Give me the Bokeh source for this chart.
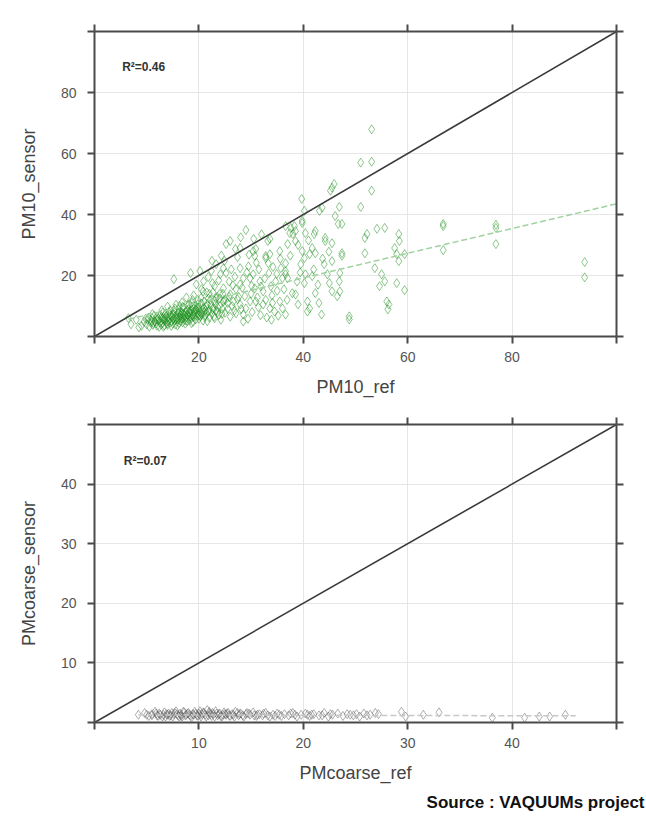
from bokeh.plotting import figure
from bokeh.models import Range1d, LinearAxis, FixedTicker, Label, Title, ColumnDataSource
from bokeh.layouts import column
from bokeh.embed import file_html
from bokeh.resources import INLINE

# ---------------- data ----------------
pm10_ref = [
    6.5, 7.0, 8.0, 8.5, 9.0, 9.5, 10.0, 10.2, 10.5, 10.8,
    11.0, 11.2, 11.5, 11.8, 12.0, 12.0, 12.3, 12.5, 12.6, 12.8,
    13.0, 13.0, 13.2, 13.4, 13.5, 13.6, 13.8, 14.0, 14.0, 14.2,
    14.3, 14.5, 14.6, 14.8, 15.0, 15.0, 15.2, 15.3, 15.4, 15.5,
    15.6, 15.8, 16.0, 16.0, 16.1, 16.2, 16.3, 16.5, 16.5, 16.6,
    16.8, 16.9, 17.0, 17.0, 17.2, 17.3, 17.4, 17.5, 17.6, 17.8,
    17.8, 18.0, 18.0, 18.1, 18.2, 18.3, 18.5, 18.5, 18.6, 18.8,
    18.9, 19.0, 19.0, 19.2, 19.3, 19.4, 19.5, 19.6, 19.8, 19.8,
    20.0, 20.0, 20.2, 20.3, 20.5, 20.5, 20.7, 20.8, 21.0, 21.0,
    21.2, 21.4, 21.5, 21.8, 22.0, 22.0, 22.3, 22.5, 22.8, 23.0,
    23.0, 23.3, 23.5, 23.8, 24.0, 24.2, 24.5, 24.8, 25.0, 13.5,
    14.4, 15.7, 16.4, 17.1, 17.7, 18.4, 19.1, 19.9, 20.6, 12.2,
    11.6, 14.9, 16.7, 18.7, 21.3, 15.1, 17.9, 19.7, 13.9,
    # dense cluster, second pass
    10.3, 10.9, 11.3, 11.9, 12.4, 12.7, 13.1, 13.3, 13.7, 14.1,
    14.5, 14.7, 15.1, 15.4, 15.9, 16.2, 16.6, 16.9, 17.2, 17.5,
    17.9, 18.1, 18.4, 18.8, 19.1, 19.4, 19.8, 20.1, 20.4, 20.9,
    21.1, 21.6, 21.9, 22.2, 22.6, 22.9, 23.2, 23.6, 23.9, 24.4,
    11.4, 12.9, 14.0, 15.6, 16.8, 17.6, 19.0, 13.2, 15.9, 18.6,
    21.6, 22.7, 24.6, 20.8, 25.5, 26.0, 25.8, 9.8, 11.1, 16.3,
    # middle
    23.3, 24.7, 24.1, 25.2, 18.4, 19.5, 20.9, 20.5, 15.2, 27.9,
    28.5, 27.9, 27.1, 29.8, 31.7, 30.7, 32.3, 33.8, 34.7, 24.7,
    26.0, 23.3, 24.7, 26.6, 27.9, 29.0, 27.1, 28.5, 29.8, 30.9,
    32.3, 33.6, 34.5, 35.5, 36.0, 36.6, 28.5, 29.0, 26.0, 25.2,
    27.0, 27.9, 30.4, 30.7, 30.9, 33.2, 33.6, 32.8, 35.5, 36.6,
    35.7, 36.6, 37.0, 22.0, 23.0, 25.8, 26.5, 28.8, 30.0, 31.2,
    32.8, 34.0, 35.0, 25.5, 26.8, 30.2, 31.8, 33.0, 22.6, 21.5,
    29.5, 31.5, 33.4, 34.2, 30.1, 27.4, 24.3, 22.5, 20.2, 21.8,
    32.0, 30.5, 28.0, 33.6, 32.8,
    22.4, 23.8, 24.9, 26.2, 26.9, 27.6, 28.3, 29.2, 29.6, 30.4,
    31.0, 31.9, 32.6, 33.3, 34.1, 34.9, 35.6, 36.3, 36.9, 37.5,
    28.1, 29.4, 31.4, 33.9, 35.2, 24.0, 25.1, 26.4, 27.4, 23.6,
    38.8, 39.4, 39.0, 42.8, 43.7, 42.0, 44.9, 41.0, 39.0, 43.0,
    # right
    39.7, 43.6, 46.9, 46.1, 47.4, 45.9, 45.5, 45.2, 45.5, 44.0,
    47.4, 47.4, 45.5, 44.2, 41.7, 42.3, 41.2, 39.8, 40.2, 39.5,
    38.5, 37.0, 38.0, 37.6, 38.5, 36.6, 36.0, 40.4, 41.7, 40.2,
    38.5, 37.9, 40.8, 41.2, 40.8, 42.3, 44.6, 45.0, 45.5, 43.5,
    47.0, 46.9, 47.0, 46.5, 48.8, 48.8, 43.1, 42.3, 44.2, 40.4,
    38.3, 39.8, 37.4, 40.2, 39.8, 36.6, 42.1, 46.7, 51.0, 51.8,
    52.2, 51.8, 53.7, 54.1, 55.6, 58.3, 58.4, 57.5, 57.9, 58.3,
    59.4, 55.0, 55.6, 54.6, 56.0, 56.4, 56.2, 57.9, 59.4, 66.8,
    66.8, 66.8, 76.9, 76.9, 76.9, 93.9, 93.9, 53.1, 51.0, 53.1,
    53.1,
]
pm10_sensor = [
    6.0, 4.0, 5.5, 3.0, 3.5, 4.8, 4.0, 5.5, 3.2, 4.5,
    6.0, 3.8, 5.0, 4.2, 6.5, 3.5, 5.2, 4.6, 7.0, 3.9,
    5.8, 4.4, 6.4, 3.6, 5.1, 7.5, 4.8, 6.2, 3.8, 5.5,
    8.0, 4.5, 6.8, 5.0, 7.2, 4.2, 6.0, 8.5, 5.3, 3.9,
    6.6, 4.9, 7.8, 5.6, 9.0, 4.4, 6.3, 7.0, 5.1, 8.3,
    6.0, 4.6, 7.4, 9.5, 5.5, 6.8, 4.2, 8.0, 6.2, 7.2,
    5.0, 9.0, 6.5, 10.5, 7.7, 5.4, 8.4, 6.0, 11.0, 7.0,
    4.8, 9.2, 6.4, 7.9, 10.0, 5.6, 8.6, 6.8, 12.0, 7.5,
    9.6, 5.8, 8.1, 6.6, 10.8, 7.2, 9.0, 5.2, 8.0, 11.5,
    6.8, 9.8, 7.6, 12.5, 8.8, 6.2, 10.2, 7.4, 9.3, 11.8,
    6.0, 8.4, 13.0, 7.0, 10.0, 5.5, 9.0, 12.0, 7.8, 5.9,
    7.1, 5.7, 6.9, 6.1, 8.7, 7.3, 8.3, 6.9, 7.9, 5.9,
    4.9, 6.4, 7.6, 9.8, 8.6, 5.6, 6.9, 9.4, 4.2,
    # dense cluster, second pass
    6.2, 5.1, 4.4, 5.6, 3.2, 6.0, 7.8, 5.4, 6.6, 5.0,
    8.6, 3.5, 7.6, 9.2, 6.2, 8.0, 5.8, 9.8, 7.1, 5.2,
    10.2, 8.1, 6.6, 12.0, 7.2, 9.0, 10.6, 7.0, 12.6, 9.4,
    6.4, 10.6, 8.2, 12.0, 9.0, 6.6, 10.6, 8.0, 12.4, 7.4,
    6.8, 8.6, 9.8, 10.4, 11.2, 12.8, 13.5, 3.2, 3.6, 4.4,
    5.0, 14.5, 14.0, 14.8, 11.0, 6.5, 13.0, 5.8, 7.4, 10.0,
    # middle
    23.7, 22.4, 20.4, 20.8, 20.8, 17.1, 18.1, 15.5, 18.8, 22.4,
    19.1, 17.1, 15.5, 19.1, 18.1, 15.8, 14.8, 16.5, 18.1, 15.8,
    13.8, 12.5, 11.5, 11.5, 10.5, 9.2, 7.6, 7.2, 11.5, 11.5,
    10.5, 9.2, 8.2, 11.5, 9.2, 7.2, 4.9, 34.9, 31.3, 30.3,
    28.7, 29.0, 28.0, 26.4, 28.7, 31.3, 27.0, 25.7, 28.0, 24.0,
    22.4, 21.4, 19.1, 14.0, 16.5, 18.0, 16.8, 13.2, 14.0, 12.8,
    12.0, 13.5, 15.0, 9.0, 8.5, 8.0, 7.0, 6.2, 17.5, 14.5,
    23.0, 22.0, 20.8, 22.8, 16.6, 26.0, 26.5, 24.8, 21.5, 19.5,
    33.5, 32.0, 32.5, 32.0, 26.4,
    21.5, 18.4, 24.8, 22.0, 19.6, 13.0, 16.0, 21.0, 26.8, 20.4,
    24.2, 16.4, 19.0, 24.0, 11.0, 20.5, 25.5, 15.5, 12.0, 26.5,
    9.0, 5.8, 9.6, 5.5, 6.8, 14.0, 12.0, 10.0, 12.2, 9.6,
    18.0, 21.0, 10.5, 17.0, 25.5, 22.0, 27.8, 31.5, 30.0, 11.0,
    # right
    45.1, 42.2, 42.5, 39.5, 36.9, 50.0, 48.8, 47.8, 24.7, 23.7,
    27.3, 26.5, 30.6, 31.3, 29.0, 27.3, 27.0, 28.0, 25.7, 23.7,
    31.3, 30.3, 33.6, 35.6, 34.6, 20.4, 19.1, 20.4, 19.8, 17.5,
    13.8, 14.2, 11.5, 9.2, 8.2, 14.2, 20.4, 17.5, 14.8, 7.2,
    20.8, 18.1, 14.8, 13.2, 6.6, 5.6, 41.2, 34.6, 32.3, 33.9,
    36.2, 37.2, 33.9, 41.2, 37.9, 36.2, 33.6, 36.9, 42.5, 32.3,
    33.6, 27.3, 22.4, 35.3, 35.6, 33.6, 31.3, 29.0, 27.0, 24.7,
    27.0, 20.4, 18.1, 16.5, 11.5, 10.5, 8.9, 17.5, 15.2, 36.9,
    36.2, 28.3, 36.6, 35.6, 30.3, 24.4, 19.4, 67.9, 57.0, 57.3,
    47.8,
]
pm10_fit = {"intercept": 3.0, "slope": 0.405}
pm10_r2 = "R\u00b2=0.46"

coarse_ref = [
    4.2, 4.8, 5.2, 5.5, 5.8, 6.0, 6.2, 6.5, 6.7, 7.0,
    7.2, 7.4, 7.6, 7.8, 8.0, 8.2, 8.4, 8.6, 8.8, 9.0,
    9.2, 9.4, 9.6, 9.8, 10.0, 10.2, 10.4, 10.6, 10.8, 11.0,
    11.2, 11.4, 11.6, 11.8, 12.0, 12.2, 12.4, 12.6, 12.8, 13.0,
    13.2, 13.5, 13.8, 14.0, 14.3, 14.6, 14.9, 15.2, 15.5, 15.8,
    16.1, 16.4, 16.8, 17.1, 17.5, 17.9, 18.2, 18.6, 19.0, 19.4,
    19.8, 20.2, 20.6, 21.0, 21.5, 22.0, 22.4, 22.8, 23.3, 23.8,
    24.2, 24.8, 25.4, 25.8, 26.4, 26.9, 29.4, 29.8, 31.5, 33.0,
    38.1, 41.2, 42.6, 43.6, 45.1, 5.5, 6.3, 7.1, 7.9, 8.7,
    9.5, 10.3, 10.9, 11.7, 12.5, 6.8, 8.1, 9.3, 10.7, 11.5,
    12.9, 13.7, 14.5, 15.3, 16.2, 17.3, 18.8, 20.4, 21.8,
    5.0, 5.9, 6.6, 7.3, 7.7, 8.3, 8.9, 9.1, 9.7, 10.1,
    10.5, 11.1, 11.3, 11.9, 12.3, 12.7, 13.3, 13.9, 14.2, 14.8,
    15.6, 16.6, 17.7, 19.2, 20.8, 22.6, 24.5, 25.1, 26.1, 27.2,
    6.1, 7.5, 9.9, 12.1, 13.4, 8.5, 10.1, 11.0, 6.9, 8.3,
]
coarse_sensor = [
    1.3, 1.6, 1.1, 1.4, 1.8, 1.2, 1.5, 1.0, 1.7, 1.3,
    1.1, 1.6, 1.4, 1.9, 1.2, 1.5, 1.0, 1.7, 1.3, 1.6,
    1.1, 1.4, 1.8, 1.2, 1.5, 1.0, 1.7, 1.3, 2.1, 1.6,
    1.1, 1.4, 1.9, 1.2, 1.5, 1.0, 1.7, 1.3, 1.6, 1.1,
    1.4, 1.8, 1.2, 1.5, 1.0, 1.6, 1.3, 1.7, 1.1, 1.4,
    1.2, 1.6, 1.0, 1.3, 1.5, 1.1, 1.4, 1.2, 1.6, 1.0,
    1.3, 1.5, 1.1, 1.4, 1.2, 1.6, 1.0, 1.3, 1.5, 1.1,
    1.4, 1.2, 1.0, 1.5, 1.3, 1.6, 1.8, 1.0, 1.3, 1.7,
    0.8, 0.8, 1.0, 1.0, 1.3, 1.2, 1.3, 1.5, 1.4, 1.2,
    1.3, 1.4, 1.2, 1.5, 1.4, 1.0, 1.0, 0.9, 1.0, 1.0,
    1.2, 1.6, 1.4, 1.2, 1.5, 1.1, 1.5, 1.3, 1.2,
    1.3, 1.5, 1.3, 1.2, 1.6, 1.3, 1.5, 1.3, 1.5, 1.3,
    1.6, 1.4, 1.6, 1.4, 1.3, 1.5, 1.3, 1.4, 1.2, 1.5,
    1.3, 1.2, 1.3, 1.3, 1.3, 1.4, 1.3, 1.4, 1.2, 1.4,
    1.1, 1.0, 1.1, 1.1, 1.0, 1.8, 1.9, 1.8, 1.4, 1.1,
]
coarse_fit = {"intercept": 1.3, "slope": -0.004}
coarse_r2 = "R\u00b2=0.07"

pm10_limits = [0, 100]
pm10_ticks = [0, 20, 40, 60, 80, 100]
pm10_labelled = [20, 40, 60, 80]
coarse_limits = [0, 50]
coarse_ticks = [0, 10, 20, 30, 40, 50]
coarse_labelled = [10, 20, 30, 40]

source_text = "Source : VAQUUMs project"

FONT = "Liberation Sans"
AXIS_COL = "#4a4a4a"


def style_axis(ax, ticks, labelled, show_labels=True, vertical=False):
    ax.ticker = FixedTicker(ticks=ticks)
    ax.axis_line_color = AXIS_COL
    ax.axis_line_width = 2
    ax.major_tick_line_color = AXIS_COL
    ax.major_tick_line_width = 2
    ax.major_tick_out = 7
    ax.major_tick_in = 0
    ax.minor_tick_line_color = None
    ax.major_label_text_font = FONT
    ax.major_label_text_color = "#555555"
    if show_labels:
        ax.major_label_text_font_size = "14px"
        ax.major_label_standoff = 11 if vertical else 8
        ax.major_label_overrides = {t: ("" if t not in labelled else str(t)) for t in ticks}
    else:
        ax.major_label_text_font_size = "0px"
        ax.major_label_standoff = 0
        ax.major_label_overrides = {t: "" for t in ticks}
    ax.axis_label_text_font = FONT
    ax.axis_label_text_font_style = "normal"
    ax.axis_label_text_font_size = "18px"
    ax.axis_label_text_color = "#444444"
    ax.axis_label_standoff = 19 if vertical else 12


def panel(xs, ys, fit, r2, limits, ticks, labelled, xlabel, ylabel, colour, fit_colour,
          height, borders, r2_pos):
    p = figure(width=646, height=height,
               x_range=Range1d(limits[0], limits[1]), y_range=Range1d(limits[0], limits[1]),
               output_backend="svg", toolbar_location=None,
               min_border_left=borders[0], min_border_right=borders[1],
               min_border_top=borders[2], min_border_bottom=borders[3])
    p.outline_line_color = None
    p.background_fill_color = "white"
    p.border_fill_color = "white"
    style_axis(p.xaxis[0], ticks, labelled)
    style_axis(p.yaxis[0], ticks, labelled, vertical=True)
    p.xaxis[0].axis_label = xlabel
    p.yaxis[0].axis_label = ylabel
    top = LinearAxis()
    right = LinearAxis()
    style_axis(top, ticks, labelled, show_labels=False)
    style_axis(right, ticks, labelled, show_labels=False)
    p.add_layout(top, "above")
    p.add_layout(right, "right")
    p.xgrid.ticker = FixedTicker(ticks=labelled)
    p.ygrid.ticker = FixedTicker(ticks=labelled)
    p.xgrid.grid_line_color = "#e6e6e6"
    p.ygrid.grid_line_color = "#e6e6e6"

    src = ColumnDataSource(dict(x=xs, y=ys))
    p.scatter("x", "y", source=src, marker="diamond", size=9, fill_color=None,
              line_color=colour, line_alpha=0.5, line_width=1)
    x0 = min(xs)
    x1 = limits[1] if fit["slope"] > 0.1 else max(xs) + 1
    p.line([x0, x1], [fit["intercept"] + fit["slope"] * x0, fit["intercept"] + fit["slope"] * x1],
           line_color=fit_colour, line_width=1.5, line_dash="6 3")
    p.line(limits, limits, line_color="#3a3a3a", line_width=1.6)
    p.add_layout(Label(x=r2_pos[0], y=r2_pos[1], text=r2, text_font=FONT,
                       text_font_style="bold", text_font_size="12px", text_color="#333333",
                       text_baseline="alphabetic"))
    return p


p1 = panel(pm10_ref, pm10_sensor, pm10_fit, pm10_r2, pm10_limits, pm10_ticks, pm10_labelled,
           "PM10_ref", "PM10_sensor", "#1a8f1a", "#9fd29f",
           404, (90, 30, 31, 68), (5.3, 88.5))
p2 = panel(coarse_ref, coarse_sensor, coarse_fit, coarse_r2, coarse_limits, coarse_ticks,
           coarse_labelled, "PMcoarse_ref", "PMcoarse_sensor", "#5f5f5f", "#c8c8c8",
           412, (94, 29, 20, 92), (2.8, 43.8))

src_title = Title(text=source_text, align="right", text_font=FONT, text_font_style="bold",
                  text_font_size="17px", text_color="#111111", offset=-28)
p2.add_layout(src_title, "below")

layout = column(p1, p2, spacing=0)
open("out.html", "w").write(file_html(layout, INLINE))
